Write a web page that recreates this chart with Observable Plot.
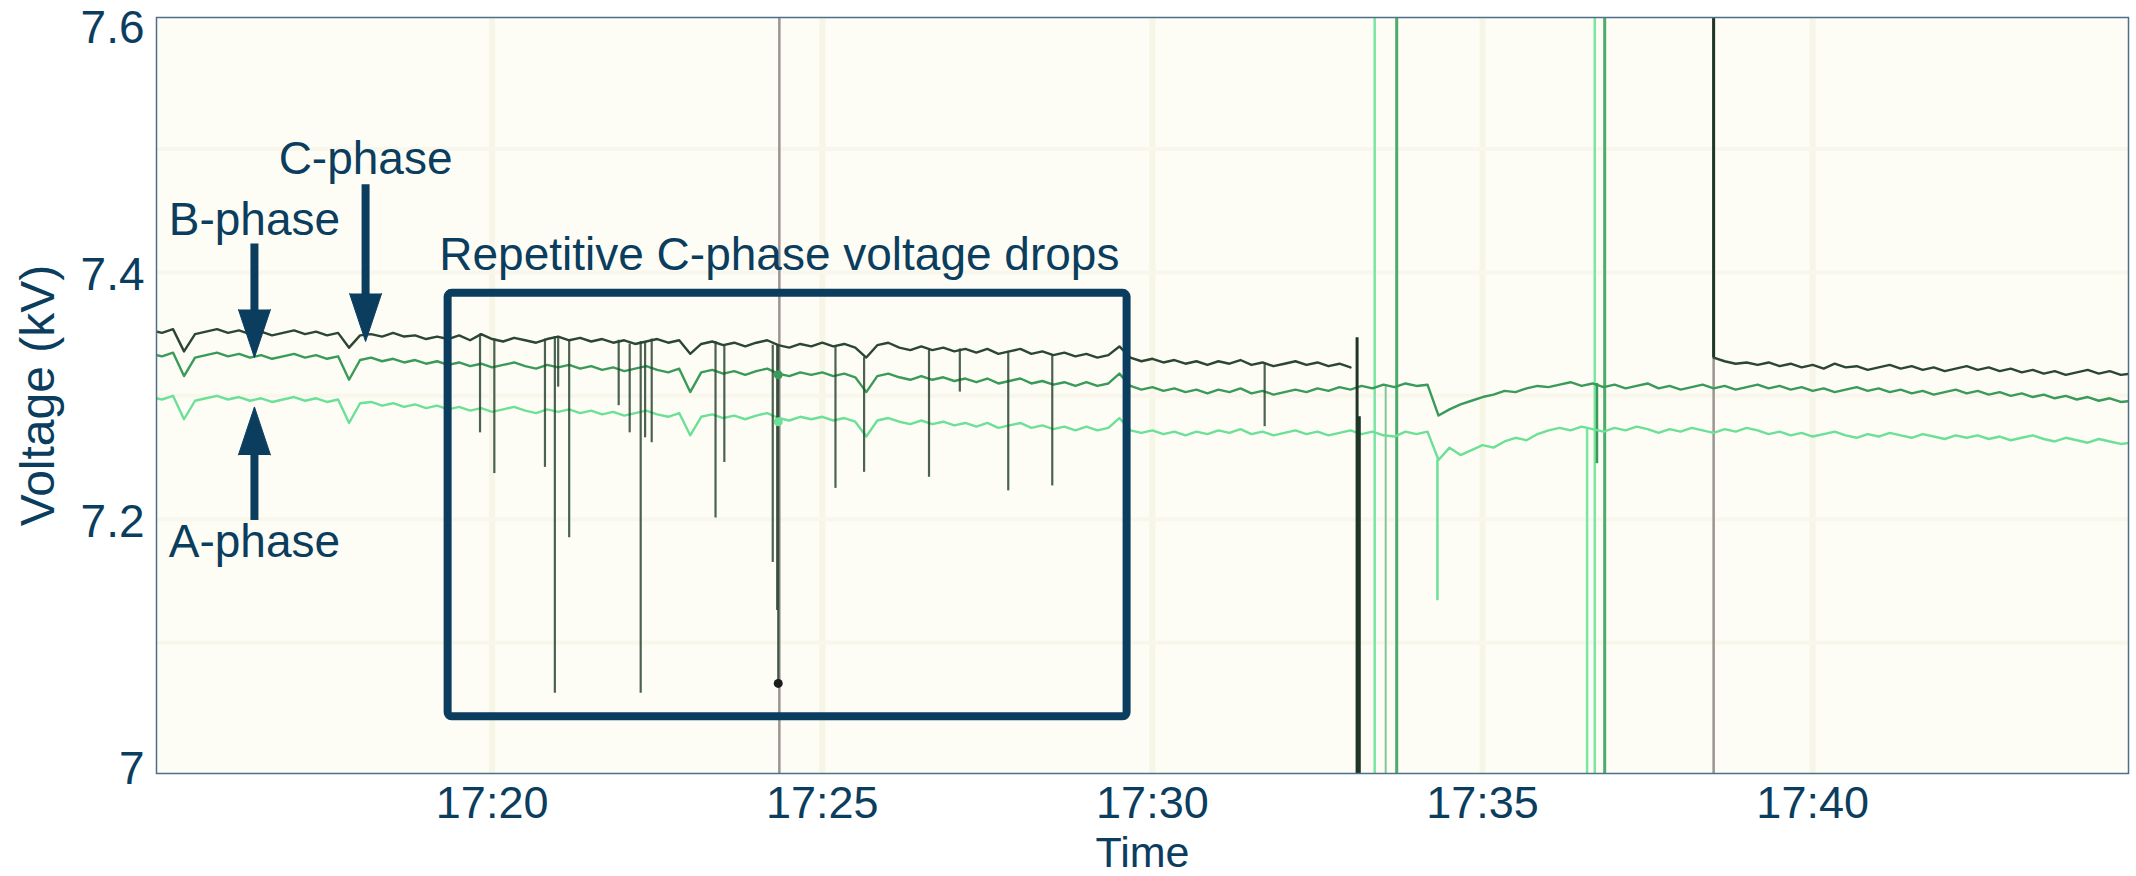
<!DOCTYPE html>
<html><head><meta charset="utf-8">
<script src="https://cdn.jsdelivr.net/npm/d3@7"></script>
<script src="https://cdn.jsdelivr.net/npm/@observablehq/plot@0.6"></script>
<style>html,body{margin:0;padding:0;background:#fff;overflow:hidden}</style>
</head><body><div id="chart"></div>
<script>
// ---------- axes ----------
const xDomain = ["17:14:55", "17:44:47"];
const yDomain = [6.994, 7.6065];
const xTicks = ["17:20", "17:25", "17:30", "17:35", "17:40"];
const yTicks = [7, 7.2, 7.4, 7.6];
const faintGridY = [7.1, 7.2, 7.3, 7.4, 7.5];
const xTitle = "Time";
const yTitle = "Voltage (kV)";

// ---------- sampled phase voltages (kV), one reading every 10 s from 17:14:50 ----------
const sampleStart = "17:14:50";
const sampleStepSeconds = 10;
const cPhase = [7.353,7.351,7.354,7.336,7.350,7.352,7.354,7.351,7.353,7.350,7.352,7.349,7.351,7.353,7.350,7.352,7.349,7.351,7.339,7.349,
7.350,7.348,7.351,7.348,7.349,7.346,7.348,7.346,7.349,7.345,7.350,7.346,7.344,7.347,7.345,7.343,7.346,7.348,7.345,7.347,
7.344,7.346,7.343,7.345,7.342,7.344,7.346,7.343,7.345,7.334,7.342,7.344,7.341,7.343,7.340,7.343,7.345,7.341,7.339,7.342,
7.340,7.343,7.340,7.342,7.339,7.331,7.341,7.343,7.339,7.337,7.340,7.337,7.339,7.336,7.338,7.335,7.338,7.334,7.336,7.338,
7.334,7.336,7.333,7.335,7.332,7.334,7.331,7.333,7.340,7.331,7.328,7.330,7.327,7.329,7.326,7.328,7.325,7.328,7.326,7.329,
7.325,7.327,7.324,7.326,7.328,7.325,7.327,7.324,7.326,7.323,
null,null,null,null,null,null,null,null,null,null,null,null,null,null,null,null,
null,null,null,null,null,null,null,null,null,null,null,null,null,null,null,null,
7.331,7.328,7.326,7.327,7.325,7.327,7.324,7.326,7.323,7.325,7.322,7.326,7.323,7.324,7.321,7.323,7.325,7.322,7.324,7.321,
7.323,7.320,7.322,7.324,7.321,7.323,7.320,7.322,7.319,7.321,7.318,7.320,7.317,7.319,7.321,7.318,7.320,7.317,7.318];
const bPhase = [7.334,7.332,7.335,7.316,7.331,7.333,7.335,7.332,7.334,7.331,7.333,7.330,7.332,7.334,7.331,7.333,7.330,7.332,7.313,7.329,
7.331,7.328,7.330,7.327,7.329,7.326,7.328,7.325,7.327,7.324,7.326,7.323,7.325,7.327,7.324,7.322,7.325,7.323,7.325,7.322,
7.324,7.321,7.323,7.320,7.322,7.324,7.321,7.319,7.322,7.303,7.319,7.321,7.318,7.320,7.317,7.320,7.322,7.318,7.316,7.319,
7.317,7.319,7.316,7.318,7.315,7.303,7.316,7.318,7.315,7.313,7.316,7.313,7.315,7.312,7.314,7.311,7.314,7.310,7.312,7.314,
7.310,7.312,7.309,7.311,7.308,7.311,7.308,7.310,7.318,7.308,7.305,7.307,7.304,7.306,7.303,7.305,7.302,7.305,7.303,7.306,
7.302,7.304,7.301,7.303,7.305,7.303,7.306,7.304,7.307,7.305,7.308,7.306,7.309,7.307,7.310,7.308,7.309,7.284,7.289,7.293,
7.296,7.299,7.301,7.304,7.303,7.306,7.308,7.307,7.309,7.311,7.308,7.310,7.307,7.309,7.306,7.308,7.310,7.306,7.308,7.305,
7.307,7.309,7.306,7.308,7.305,7.307,7.309,7.306,7.308,7.305,7.307,7.304,7.306,7.303,7.305,7.307,7.304,7.306,7.303,7.305,
7.302,7.304,7.301,7.303,7.305,7.302,7.304,7.301,7.303,7.300,7.302,7.299,7.301,7.298,7.300,7.297,7.299,7.296,7.298,7.295,7.296];
const aPhase = [7.299,7.297,7.300,7.281,7.296,7.298,7.300,7.297,7.299,7.296,7.298,7.295,7.297,7.299,7.296,7.298,7.295,7.297,7.278,7.294,
7.295,7.292,7.294,7.291,7.293,7.290,7.292,7.289,7.291,7.288,7.290,7.287,7.289,7.291,7.288,7.286,7.289,7.287,7.289,7.286,
7.288,7.285,7.287,7.284,7.286,7.288,7.285,7.283,7.286,7.268,7.283,7.285,7.282,7.284,7.281,7.284,7.286,7.282,7.280,7.283,
7.281,7.283,7.280,7.282,7.279,7.267,7.280,7.282,7.279,7.277,7.280,7.277,7.279,7.276,7.278,7.275,7.278,7.274,7.276,7.278,
7.274,7.276,7.273,7.275,7.272,7.275,7.272,7.274,7.282,7.272,7.270,7.272,7.269,7.271,7.268,7.271,7.269,7.272,7.270,7.273,
7.269,7.271,7.268,7.270,7.272,7.269,7.271,7.268,7.270,7.272,7.269,7.271,7.268,7.267,7.271,7.269,7.271,7.248,7.258,7.252,
7.256,7.260,7.258,7.263,7.266,7.264,7.269,7.272,7.274,7.272,7.275,7.273,7.271,7.274,7.272,7.275,7.273,7.270,7.273,7.271,
7.274,7.272,7.270,7.273,7.271,7.274,7.272,7.269,7.271,7.268,7.270,7.267,7.269,7.271,7.268,7.266,7.269,7.267,7.270,7.268,
7.266,7.269,7.267,7.265,7.268,7.266,7.268,7.265,7.267,7.264,7.266,7.268,7.265,7.263,7.266,7.264,7.262,7.265,7.263,7.261,7.262];

// ---------- transient events ----------
const cDropTimes = ["17:19:49","17:20:02","17:20:48","17:20:57","17:21:00","17:21:10","17:21:55","17:22:05","17:22:15","17:22:19","17:22:25",
  "17:23:23","17:23:31","17:24:15","17:24:19","17:24:20","17:25:12","17:25:38","17:26:37","17:27:05","17:27:49","17:28:29","17:31:42"];
const cDropLows = [7.270,7.237,7.242,7.059,7.307,7.185,7.292,7.270,7.059,7.266,7.262,
  7.201,7.246,7.165,7.126,7.067,7.225,7.238,7.234,7.303,7.223,7.227,7.275];
const cLossTimes = ["17:33:06","17:33:08"];        // C-phase falls off scale
const cLossFrom = [7.347, 7.283];
const cReturnTimes = ["17:38:30"];                 // C-phase comes back from above the scale
const aFullTimes = ["17:33:22","17:36:42"];        // A-phase swings across the whole range
const bFullTimes = ["17:33:42","17:36:51"];
const aLossTimes = ["17:36:35"];
const bLossTimes = ["17:33:32"];
const aDropTimes = ["17:34:19"]; const aDropLows = [7.134];
const bDropTimes = ["17:36:44"]; const bDropLows = [7.245];
const cursorTimes = ["17:24:21","17:38:30"];
const cursorDotTime = "17:24:20";
const cursorDotValues = [7.067, 7.317, 7.279];     // C, B, A readings at the cursor

// ---------- annotations ----------
const labelTexts = ["C-phase","B-phase","A-phase","Repetitive C-phase voltage drops"];
const labelTimes = ["17:18:05","17:16:24","17:16:24","17:24:21"];
const labelValues = [7.492, 7.442, 7.181, 7.414];
const arrowTimes = ["17:18:05","17:16:24","17:16:24"];
const arrowFrom = [7.471, 7.423, 7.199];
const arrowTo = [7.344, 7.331, 7.291];
const boxTimes = ["17:19:20","17:29:37"];
const boxValues = [7.040, 7.383];

// ---------- styling ----------
const navy = "#0b3d5e";
const cColor = "#2c4634", bColor = "#3a9a5a", aColor = "#6be096";
const dotColors = ["#1c1c1c", bColor, aColor];
const aSpikeColor = "#7ae6a2", bSpikeColor = "#4aad6c";

const T = s => { const [h, m, sec] = s.split(":").map(Number); return new Date(2021, 0, 1, h, m, sec || 0); };
const t0 = T(sampleStart);
const stepMs = sampleStepSeconds * 1000;
const series = vals => vals.map((v, i) => ({t: new Date(+t0 + i * stepMs), v}));
const nearest = (vals, time) => vals[Math.max(0, Math.min(vals.length - 1, Math.round((T(time) - t0) / stepMs)))];

const cData = series(cPhase), bData = series(bPhase), aData = series(aPhase);
const cDrops = cDropTimes.map((t, i) => ({t: T(t), y1: nearest(cPhase, t), y2: cDropLows[i]}));
const aDrops = aDropTimes.map((t, i) => ({t: T(t), y1: nearest(aPhase, t), y2: aDropLows[i]}));
const bDrops = bDropTimes.map((t, i) => ({t: T(t), y1: nearest(bPhase, t), y2: bDropLows[i]}));
const cLoss = cLossTimes.map((t, i) => ({t: T(t), y1: cLossFrom[i], y2: yDomain[0]}));
const aLoss = aLossTimes.map(t => ({t: T(t), y1: nearest(aPhase, t), y2: yDomain[0]}));
const bLoss = bLossTimes.map(t => ({t: T(t), y1: nearest(bPhase, t), y2: yDomain[0]}));
const cReturn = cReturnTimes.map(t => ({t: T(t), y1: yDomain[1], y2: nearest(cPhase, t)}));
const dots = cursorDotValues.map((v, i) => ({t: T(cursorDotTime), v, c: dotColors[i]}));
const labels = labelTexts.map((s, i) => ({s, t: T(labelTimes[i]), v: labelValues[i]}));
const arrows = arrowTimes.map((t, i) => ({t: T(t), from: arrowFrom[i], to: arrowTo[i], down: arrowTo[i] < arrowFrom[i]}));
const box = [{x1: T(boxTimes[0]), x2: T(boxTimes[1]), y1: boxValues[0], y2: boxValues[1]}];

const chart = Plot.plot({
  width: 2136, height: 876,
  marginLeft: 156, marginRight: 8, marginTop: 17, marginBottom: 103,
  style: {background: "white", color: navy, fontFamily: "'Liberation Sans', Arial, sans-serif", fontSize: "46px"},
  x: {type: "time", domain: xDomain.map(T), label: null},
  y: {domain: yDomain, label: null},
  marks: [
    Plot.frame({fill: "#fdfdf5", stroke: "none"}),
    Plot.gridX(xTicks.map(T), {stroke: "#f7f5e6", strokeOpacity: 1, strokeWidth: 6}),
    Plot.gridY(faintGridY, {stroke: "#f9f7ec", strokeOpacity: 1, strokeWidth: 4}),
    Plot.ruleX(cursorTimes.map(T), {stroke: "#9d9494", strokeWidth: 2.5}),
    Plot.ruleX(aFullTimes.map(T), {stroke: aSpikeColor, strokeWidth: 2.5}),
    Plot.ruleX(bFullTimes.map(T), {stroke: bSpikeColor, strokeWidth: 3}),
    Plot.ruleX(aLoss, {x: "t", y1: "y1", y2: "y2", stroke: aSpikeColor, strokeWidth: 2.5, clip: true}),
    Plot.ruleX(bLoss, {x: "t", y1: "y1", y2: "y2", stroke: "#80c896", strokeWidth: 2, clip: true}),
    Plot.ruleX(aDrops, {x: "t", y1: "y1", y2: "y2", stroke: aColor, strokeWidth: 2.5, clip: true}),
    Plot.ruleX(bDrops, {x: "t", y1: "y1", y2: "y2", stroke: bColor, strokeWidth: 2.5, clip: true}),
    Plot.line(aData, {x: "t", y: "v", stroke: aColor, strokeWidth: 2.4, clip: true}),
    Plot.line(bData, {x: "t", y: "v", stroke: bColor, strokeWidth: 2.4, clip: true}),
    Plot.line(cData, {x: "t", y: "v", stroke: cColor, strokeWidth: 2.4, clip: true}),
    Plot.ruleX(cDrops, {x: "t", y1: "y1", y2: "y2", stroke: cColor, strokeOpacity: 0.85, strokeWidth: 2.2, clip: true}),
    Plot.ruleX(cLoss, {x: "t", y1: "y1", y2: "y2", stroke: "#1f3526", strokeWidth: 3, clip: true}),
    Plot.ruleX(cReturn, {x: "t", y1: "y1", y2: "y2", stroke: "#1f3526", strokeWidth: 3, clip: true}),
    Plot.dot(dots, {x: "t", y: "v", fill: "c", r: 4.5}),
    Plot.rect(box, {x1: "x1", x2: "x2", y1: "y1", y2: "y2", fill: "none", stroke: navy, strokeWidth: 8, rx: 4}),
    Plot.ruleX(arrows.filter(d => d.down), {x: "t", y1: "from", y2: "to", stroke: navy, strokeWidth: 8, insetBottom: 40}),
    Plot.ruleX(arrows.filter(d => !d.down), {x: "t", y1: "to", y2: "from", stroke: navy, strokeWidth: 8, insetTop: 40}),
    Plot.vector(arrows, {x: "t", y: "to", rotate: d => d.down ? 180 : 0, length: 48, r: 16, shape: "spike", anchor: "end", fill: navy, stroke: navy, strokeWidth: 1}),
    Plot.text(labels, {x: "t", y: "v", text: "s", fill: navy, fontSize: 46}),
    Plot.axisX({ticks: xTicks.map(T), tickFormat: d3.timeFormat("%H:%M"), tickSize: 0, tickPadding: 13, fontSize: 45, label: null}),
    Plot.axisY({ticks: yTicks, tickFormat: d => String(d), tickSize: 0, tickPadding: 12, dy: 3, fontSize: 46, label: null}),
    Plot.text([xTitle], {frameAnchor: "bottom", lineAnchor: "middle", textAnchor: "middle", dy: 80, fill: navy, fontSize: 43}),
    Plot.text([yTitle], {frameAnchor: "left", lineAnchor: "middle", textAnchor: "middle", dx: -118, rotate: -90, fill: navy, fontSize: 48}),
    Plot.frame({stroke: "#4e6f8a", strokeWidth: 1.5})
  ]
});
document.getElementById("chart").appendChild(chart);
</script>
</body></html>
